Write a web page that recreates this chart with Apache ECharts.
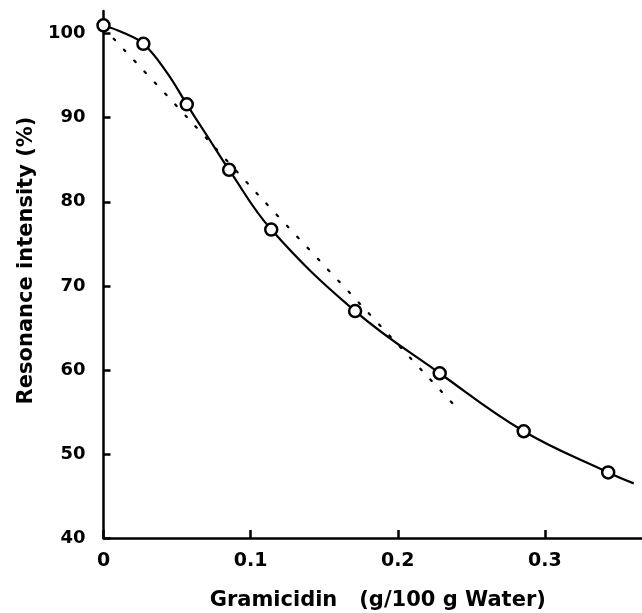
<!DOCTYPE html>
<html>
<head>
<meta charset="utf-8">
<script src="https://cdn.jsdelivr.net/npm/echarts@6/dist/echarts.min.js"></script>
<style>
html,body{margin:0;padding:0;background:#fff;}
#c{width:642px;height:613px;}
</style>
</head>
<body>
<div id="c"></div>
<script>
// Measured points (open circles)
const gramicidin = [0, 0.0271, 0.0566, 0.0854, 0.114, 0.171, 0.2285, 0.2856, 0.343];
const intensity  = [101.0, 98.8, 91.6, 83.8, 76.7, 67.0, 59.6, 52.7, 47.8];
// Solid fitted curve (extended to the right)
const curveX = [0, 0.0135, 0.0271, 0.043, 0.0566, 0.0706, 0.0854, 0.114, 0.171, 0.2285, 0.2856, 0.343, 0.3604];
const curveY = [101.0, 100.1, 98.8, 95.4, 91.6, 87.8, 83.8, 76.7, 67.0, 59.6, 52.7, 47.8, 46.5];
// Dotted line
const dotX = [0, 0.0566, 0.1053, 0.1677, 0.2384];
const dotY = [100.7, 90.1, 80.8, 69.1, 55.8];
// Ticks
const xTicks = [0, 0.1, 0.2, 0.3];
const yTicks = [40, 50, 60, 70, 80, 90, 100];

const pts = gramicidin.map((x, i) => [x, intensity[i]]);
const curve = curveX.map((x, i) => [x, curveY[i]]);
const dots = dotX.map((x, i) => [x, dotY[i]]);

const font = 'DejaVu Sans';
const chart = echarts.init(document.getElementById('c'));
chart.setOption({
  animation: false,
  backgroundColor: '#fff',
  grid: {left: 103.5, right: 0, top: 11, bottom: 75, containLabel: false, outerBoundsMode: 'none'},
  xAxis: {
    type: 'value', min: 0, max: 0.366, interval: 0.1,
    name: 'Gramicidin   (g/100 g Water)',
    nameLocation: 'middle', nameGap: 52,
    nameTextStyle: {fontFamily: font, fontSize: 21, color: '#000', fontWeight: 'bold', padding: [0, 0, 0, 10]},
    axisLine: {show: true, onZero: false, lineStyle: {color: '#000', width: 2.5}},
    axisTick: {show: true, inside: true, length: 8, customValues: xTicks, lineStyle: {color: '#000', width: 2.5}},
    axisLabel: {customValues: xTicks, margin: 14, fontFamily: font, fontSize: 19, fontWeight: 'bold', color: '#000',
      formatter: v => (v === 0 ? '0' : v.toFixed(1))},
    splitLine: {show: false}
  },
  yAxis: {
    type: 'value', min: 40, max: 102.7, interval: 10,
    name: 'Resonance intensity (%)',
    nameLocation: 'middle', nameGap: 66,
    nameTextStyle: {fontFamily: font, fontSize: 21, color: '#000', fontWeight: 'bold', padding: [0, 0, 0, 28]},
    axisLine: {show: true, onZero: false, lineStyle: {color: '#000', width: 2.5}},
    axisTick: {show: true, inside: true, length: 7, customValues: yTicks, lineStyle: {color: '#000', width: 2.5}},
    axisLabel: {customValues: yTicks, margin: 18, fontFamily: font, fontSize: 18, fontWeight: 'bold', color: '#000'},
    splitLine: {show: false}
  },
  series: [
    {
      type: 'line', data: dots, showSymbol: false, smooth: 0.3,
      lineStyle: {color: '#000', width: 2.2, type: [2, 13], cap: 'round'},
      z: 1
    },
    {
      type: 'line', data: curve, showSymbol: false, smooth: 0.4, smoothMonotone: 'none',
      lineStyle: {color: '#000', width: 2.2},
      z: 2
    },
    {
      type: 'scatter', data: pts, symbol: 'circle', symbolSize: 12,
      itemStyle: {color: '#fff', borderColor: '#000', borderWidth: 2.5, opacity: 1},
      z: 3
    }
  ]
});
</script>
</body>
</html>
